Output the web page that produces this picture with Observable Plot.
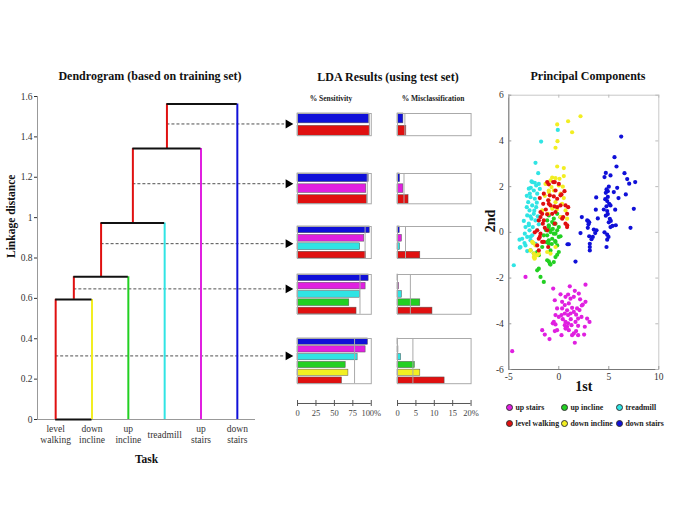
<!DOCTYPE html>
<html><head><meta charset="utf-8">
<script src="https://cdn.jsdelivr.net/npm/d3@7"></script>
<script src="https://cdn.jsdelivr.net/npm/@observablehq/plot@0.6"></script>
<style>
body{margin:0;background:#fff;}
#chart{position:relative;width:685px;height:513px;background:#fff;font-family:"Liberation Serif",serif;overflow:hidden}
.abs{position:absolute}
.title{position:absolute;width:240px;text-align:center;font-weight:bold;font-size:12px;line-height:12px;color:#111;white-space:nowrap}
.sub{position:absolute;width:120px;text-align:center;font-weight:bold;font-size:7.5px;line-height:8px;color:#222;white-space:nowrap}
.leg{position:absolute;display:flex;align-items:center;font-weight:bold;font-size:7.8px;color:#222;white-space:nowrap;line-height:10px}
.leg i{display:inline-block;width:7px;height:7px;border-radius:50%;border:1px solid #333;margin-right:3px;box-sizing:border-box}
</style></head><body><div id="chart"></div><script>
// ---------------- DATA ----------------
const classes = ["down stairs","up stairs","treadmill","up incline","down incline","level walking"];
const classColors = ["#1010d8","#e020e0","#30e4e4","#22d022","#f2ee22","#e01010"];

// Dendrogram
const leaves = ["level walking","down incline","up incline","treadmill","up stairs","down stairs"];
const leafLabels = ["level\nwalking","down\nincline","up\nincline","treadmill","up\nstairs","down\nstairs"];
const mergeHeights = [0.595,0.707,0.973,1.342,1.563];
const cutHeights = [0.315,0.647,0.871,1.168,1.464];
const dendroTicks = [0,0.2,0.4,0.6,0.8,1,1.2,1.4,1.6];

// LDA results
const ldaGroups = [
  ["down stairs","level walking"],
  ["down stairs","up stairs","level walking"],
  ["down stairs","up stairs","treadmill","level walking"],
  ["down stairs","up stairs","treadmill","up incline","level walking"],
  ["down stairs","up stairs","treadmill","up incline","down incline","level walking"]
];
const sensitivity = [
  [96.8,98],
  [96.4,93.2,94],
  [98,90.5,85,93],
  [96.4,92.3,84.6,70.2,80],
  [95.5,92.3,81.5,65.3,69,60.3]
];
const misclassification = [
  [1.6,2.4],
  [0.7,1.6,3.0],
  [0.6,1.2,0.7,6.2],
  [0.2,0.4,1.2,6.2,9.5],
  [0.15,0.25,1.0,4.7,6.2,12.8]
];
const sensTicks = [0,25,50,75,100];
const misTicks = [0,5,10,15,20];

// Principal components (1st, 2nd)
const pcUpStairs = [[-3.33,-1.95],[-4.66,-5.2],[-0.56,-2.46],[1.1,-2.36],[2.67,-2.29],[0.17,-2.71],[1.6,-2.56],[0.93,-2.72],[2.0,-2.68],[0.67,-2.82],[1.17,-2.9],[1.5,-2.82],[-0.4,-2.97],[0.33,-3.04],[0.6,-3.18],[1.0,-3.11],[2.13,-2.93],[2.4,-3.16],[2.67,-3.04],[-0.17,-3.33],[0.33,-3.33],[0.83,-3.41],[1.33,-3.3],[1.83,-3.33],[1.5,-3.48],[1.73,-3.6],[1.17,-3.55],[0.93,-3.62],[0.6,-3.55],[0.27,-3.62],[2.07,-3.4],[2.27,-3.7],[1.93,-3.77],[0.0,-3.7],[-0.33,-3.62],[2.83,-3.77],[3.07,-3.92],[-0.5,-3.92],[-0.33,-4.03],[-0.6,-3.98],[0.6,-4.06],[0.93,-3.98],[1.27,-4.06],[0.67,-3.92],[1.67,-3.92],[1.93,-4.09],[2.6,-4.13],[-0.17,-4.28],[-0.4,-4.32],[0.27,-4.5],[0.67,-4.21],[0.83,-4.13],[1.0,-4.28],[1.33,-4.5],[1.5,-4.42],[1.73,-4.32],[1.93,-4.5],[2.53,-4.47],[-1.66,-4.28],[-1.4,-4.47],[-0.93,-4.67],[1.6,-4.83],[1.2,-3.8],[0.4,-3.8],[2.3,-3.2]];
const pcTreadmill = [[-0.1,4.48],[-1.77,3.97],[-2.33,3.04],[-2.06,2.59],[-2.73,2.23],[-2.4,2.17],[-2.0,2.12],[-2.66,2.2],[-2.26,2.05],[-3.0,1.91],[-2.5,1.83],[-2.16,1.69],[-2.83,1.54],[-2.4,1.47],[-3.06,1.32],[-2.66,1.18],[-2.26,1.1],[-2.93,0.96],[-2.5,0.81],[-3.16,0.74],[-2.73,0.6],[-2.33,0.52],[-3.0,0.38],[-2.6,0.23],[-3.33,0.23],[-2.93,0.09],[-2.16,0.09],[-3.4,-0.06],[-3.16,-0.2],[-2.66,-0.13],[-3.66,-0.28],[-3.93,-0.32],[-2.83,-0.35],[-2.33,-0.5],[-3.33,-0.57],[-3.83,-0.64],[-4.5,-1.44],[-3.9,-0.67],[-3.43,-0.47],[-3.16,-0.82],[-2.83,-0.2],[-3.0,0.31],[-2.9,1.7],[-2.2,1.3],[-3.2,1.1],[-2.45,0.95],[-2.85,0.7],[-2.1,0.7],[-3.5,0.5],[-2.6,-0.45],[-1.9,1.9],[-2.8,1.95],[-3.2,1.6],[-2.0,0.35]];
const pcUpIncline = [[-1.16,0.52],[-0.66,0.45],[-1.0,0.23],[-0.33,0.38],[-0.83,0.09],[-0.16,0.09],[-0.5,-0.06],[-1.16,-0.13],[0.0,-0.2],[-0.66,-0.28],[-0.33,-0.42],[-1.0,-0.5],[-0.16,-0.57],[-0.83,-0.79],[0.0,-0.86],[-0.33,-1.08],[-1.16,-1.22],[-0.5,-1.3],[-1.0,0.74],[-0.16,0.81],[0.17,0.66],[-0.5,0.6],[-1.0,0.31],[-0.5,0.38],[0.0,0.23],[-0.83,0.01],[-0.33,-0.06],[0.17,-0.17],[-1.2,-0.43],[-0.7,-0.51],[-0.36,-0.38],[-0.16,-0.98],[-0.9,-1.37],[-2.83,-0.79],[-2.5,-0.93],[-2.0,-1.59],[-2.16,-1.66],[-1.83,-1.95],[-1.5,-2.17],[-1.0,-1.27],[-0.83,-1.41],[-1.5,-0.13],[-1.66,-0.64],[-1.0,-0.35],[-2.16,-0.86],[-2.0,-1.0],[-1.3,0.1],[-0.6,0.15]];
const pcDownIncline = [[2.17,5.08],[0.93,4.86],[-0.16,4.72],[1.33,4.38],[-0.13,3.99],[-0.33,3.7],[-0.16,2.88],[0.5,2.81],[-0.66,2.4],[-0.33,2.37],[-0.83,2.27],[0.07,2.34],[0.5,2.46],[-1.16,2.13],[-0.73,1.98],[-1.0,1.76],[-0.5,1.83],[0.0,2.05],[0.17,1.69],[-1.0,1.4],[-0.33,1.32],[0.33,1.25],[-0.66,1.03],[0.67,0.96],[-1.16,0.81],[0.17,0.67],[0.83,0.6],[-1.16,-0.86],[-0.33,-0.64],[-1.33,2.12],[-1.0,1.83],[-1.66,0.96],[-1.06,0.81],[-2.66,-0.42],[-2.33,-0.57],[-2.83,-0.79],[-2.16,-1.0],[-2.5,-1.08],[-2.56,-0.47],[-2.5,-0.93],[-2.0,-0.93],[-2.43,-1.15],[-0.83,-0.93],[-2.4,-1.12],[0.4,2.0],[-0.2,1.0],[0.5,1.5],[-1.4,1.6]];
const pcLevelWalking = [[-1.0,2.1],[-0.56,2.2],[-0.33,1.83],[-1.5,1.69],[-0.9,1.62],[0.17,1.62],[0.57,1.8],[-1.56,1.25],[-1.0,1.25],[-0.43,1.14],[0.17,1.18],[-1.83,0.89],[-1.16,0.79],[-0.33,0.89],[0.94,1.1],[0.44,0.67],[-1.06,1.4],[-1.66,0.81],[-2.0,0.52],[-1.6,0.38],[-2.16,0.09],[-1.83,-0.06],[-2.4,0.0],[-2.0,-0.28],[-1.66,-0.42],[-2.16,-0.57],[-1.06,-0.64],[-1.16,2.2],[-0.4,2.2],[0.0,2.12],[-0.5,1.57],[-0.16,1.47],[0.27,1.66],[-0.83,1.18],[-0.16,1.1],[0.67,1.18],[-0.66,0.81],[0.83,0.81],[0.67,0.38],[0.83,0.23],[-1.16,0.09],[-0.4,0.38],[-1.83,0.67],[-1.5,0.52],[0.34,0.6],[0.84,0.31],[-1.9,-0.2],[-1.5,-0.42],[-2.0,-0.79],[-1.3,1.0],[-1.9,1.5],[-1.4,0.2]];
const pcDownStairs = [[6.24,4.19],[5.57,3.29],[5.77,2.88],[4.7,2.6],[4.57,2.42],[5.17,2.49],[6.57,2.59],[6.84,2.33],[7.04,2.13],[7.64,2.2],[5.84,1.95],[4.77,1.88],[4.9,1.8],[4.7,1.73],[5.5,1.76],[6.7,1.66],[5.97,1.5],[3.74,1.53],[4.64,1.45],[4.84,1.37],[5.04,1.25],[4.77,1.14],[5.17,1.18],[5.64,0.99],[7.5,1.03],[3.7,0.99],[4.84,0.93],[4.9,0.8],[4.7,0.73],[2.3,0.67],[3.9,0.61],[5.1,0.59],[5.2,0.5],[5.0,0.44],[2.84,0.52],[3.04,0.44],[5.7,0.31],[5.17,0.23],[5.37,0.28],[2.9,0.2],[2.97,0.35],[7.17,0.2],[3.5,0.12],[3.77,0.09],[3.64,-0.03],[2.17,-0.03],[4.57,0.0],[4.84,-0.1],[3.4,-0.2],[3.27,-0.3],[4.97,-0.2],[4.84,-0.32],[3.04,-0.17],[3.1,-0.5],[3.1,-0.64],[3.1,-0.79],[4.77,-0.64],[0.87,-0.52],[1.0,-0.52],[1.67,-1.28],[2.94,0.49],[4.9,1.55],[5.0,2.0],[4.5,1.0]];
const pcTicksX = [-5,0,5,10];
const pcTicksY = [-6,-4,-2,0,2,4,6];
const legendOrder = ["up stairs","up incline","treadmill","level walking","down incline","down stairs"];

// ---------------- HELPERS ----------------
const chart = document.getElementById("chart");
const FONT = "Liberation Serif";
const colorScale = {domain: classes, range: classColors};
function place(node, left, top) {
  const d = document.createElement("div");
  d.className = "abs"; d.style.left = left + "px"; d.style.top = top + "px";
  d.appendChild(node); chart.appendChild(d); return d;
}
function addText(cls, text, cx, cy, w) {
  const d = document.createElement("div");
  d.className = cls; d.textContent = text;
  d.style.left = (cx - w / 2) + "px"; d.style.top = cy + "px";
  chart.appendChild(d);
}

// ---------------- TITLES ----------------
addText("title", "Dendrogram (based on training set)", 150, 70, 240);
addText("title", "LDA Results (using test set)", 388, 71, 240);
addText("title", "Principal Components", 588, 70, 240);
addText("sub", "% Sensitivity", 331, 95, 120);
addText("sub", "% Misclassification", 433, 95, 120);

// ---------------- DENDROGRAM ----------------
const vsegs = [], hsegs = [], spans = [];
let cx = 1, base = 0;
mergeHeights.forEach((h, i) => {
  const lx = i + 2;
  vsegs.push({x: cx, y1: base, y2: h, cls: leaves[0]});
  spans.push({x: cx, y1: base, y2: h});
  vsegs.push({x: lx, y1: 0, y2: h, cls: leaves[i + 1]});
  hsegs.push({x1: cx, x2: lx, y: h});
  cx = (cx + lx) / 2; base = h;
});
const cuts = cutHeights.map(c => ({y: c, x1: spans.find(s => c >= s.y1 && c <= s.y2).x}));
const dashEnd = 7.30, arrowX = 7.40;

const dendro = Plot.plot({
  width: 300, height: 385,
  marginLeft: 37, marginRight: 45, marginTop: 16, marginBottom: 46,
  style: {fontFamily: FONT, fontSize: "9.5px", color: "#333", background: "transparent", overflow: "visible"},
  x: {domain: [0.5, 6.5], axis: null},
  y: {domain: [0, 1.6], ticks: dendroTicks, tickSize: 3, tickPadding: 2, tickFormat: d => String(+d.toFixed(2)), label: null},
  color: colorScale,
  marks: [
    Plot.ruleX([0.5], {y1: 0, y2: 1.6, stroke: "#999"}),
    Plot.ruleY([0], {x1: 0.5, x2: 6.5, stroke: "#999"}),
    Plot.ruleY(cuts, {y: "y", x1: "x1", x2: dashEnd, stroke: "#222", strokeWidth: 0.8, strokeDasharray: "3,2"}),
    Plot.dot(cuts, {x: arrowX, y: "y", symbol: "triangle", rotate: 90, r: 3.3, fill: "#000", stroke: "none"}),
    Plot.ruleY([0], {x1: 1, x2: 2, stroke: "#111", strokeWidth: 2}),
    Plot.ruleX(vsegs, {x: "x", y1: "y1", y2: "y2", stroke: "cls", strokeWidth: 2}),
    Plot.ruleY(hsegs, {y: "y", x1: "x1", x2: "x2", stroke: "#111", strokeWidth: 2}),
    Plot.text(leafLabels, {x: (d, i) => i + 1, y: 0, dy: 14.5, text: d => d, lineAnchor: "middle", lineHeight: 1.2, fontSize: 9.5, fill: "#333"}),
    Plot.text(["Task"], {frameAnchor: "bottom", dy: 40, text: d => d, fontWeight: "bold", fontSize: 11.5, fill: "#111", lineAnchor: "middle"}),
    Plot.text(["Linkage distance"], {frameAnchor: "left", dx: -26, rotate: -90, text: d => d, fontWeight: "bold", fontSize: 11.5, fill: "#111"})
  ]
});
place(dendro, 0, 80);

// ---------------- LDA BARS ----------------
const ldaTop = [113.3, 172.5, 225.5, 273.5, 338.3];
const ldaBottom = [135.5, 202.8, 257.5, 313.3, 383.5];
const sensLeft = 296.5, sensRight = 370.3, misLeft = 396.7, misRight = 470.3;
function ldaPlot(group, values, maxV, w, h) {
  const rows = group.map((c, i) => ({c, v: values[i]}));
  return Plot.plot({
    width: w + 4, height: h + 4, margin: 2,
    style: {background: "transparent", overflow: "visible"},
    x: {domain: [0, maxV], axis: null},
    y: {domain: group, axis: null, paddingInner: 0.2, paddingOuter: 0, round: false},
    color: colorScale,
    marks: [
      Plot.barX(rows, {x: "v", y: "c", fill: "c", stroke: "#555", strokeWidth: 0.5}),
      Plot.ruleX([d3.mean(values)], {stroke: "#aaa", strokeWidth: 1}),
      Plot.frame({stroke: "#aaa"})
    ]
  });
}
ldaGroups.forEach((g, i) => {
  const h = ldaBottom[i] - ldaTop[i];
  place(ldaPlot(g, sensitivity[i], 100, sensRight - sensLeft, h), sensLeft - 2, ldaTop[i] - 2);
  place(ldaPlot(g, misclassification[i], 20, misRight - misLeft, h), misLeft - 2, ldaTop[i] - 2);
});
function ldaAxis(ticks, maxV, w) {
  return Plot.plot({
    width: w + 26, height: 26, marginLeft: 10, marginRight: 16, marginTop: 3, marginBottom: 17,
    style: {fontFamily: FONT, fontSize: "8.5px", color: "#444", background: "transparent", overflow: "visible"},
    x: {domain: [0, maxV], ticks, tickSize: 0, tickPadding: 3, tickFormat: d => d === maxV ? d + "%" : String(d), label: null},
    y: {domain: [-1, 1], axis: null},
    marks: [
      Plot.ruleY([0], {stroke: "#555"}),
      Plot.ruleX(ticks, {x: d => d, y1: -1, y2: 1, stroke: "#555"})
    ]
  });
}
place(ldaAxis(sensTicks, 100, sensRight - sensLeft), sensLeft - 10, 400.3 - 3);
place(ldaAxis(misTicks, 20, misRight - misLeft), misLeft - 10, 400.3 - 3);

// ---------------- PCA SCATTER ----------------
const pcSets = [["up stairs", pcUpStairs], ["treadmill", pcTreadmill], ["up incline", pcUpIncline],
                ["down incline", pcDownIncline], ["level walking", pcLevelWalking], ["down stairs", pcDownStairs]];
const pts = pcSets.flatMap(([c, arr]) => arr.map(([x, y]) => ({c, x, y})));
const scatter = Plot.plot({
  width: 205, height: 315,
  marginLeft: 28.3, marginRight: 26.7, marginTop: 14.7, marginBottom: 26,
  style: {fontFamily: FONT, fontSize: "9.5px", color: "#333", background: "transparent", overflow: "visible"},
  x: {domain: [-5, 10], ticks: pcTicksX, tickSize: 0, tickPadding: 4, tickFormat: d => String(d), label: null},
  y: {domain: [-6, 6], ticks: pcTicksY, tickSize: 0, tickPadding: 5, tickFormat: d => String(d), label: null},
  color: colorScale,
  marks: [
    Plot.frame({stroke: "#c8c8c8"}),
    Plot.ruleX([-5], {stroke: "#777"}),
    Plot.ruleY([-6], {stroke: "#777"}),
    Plot.ruleY(pcTicksY, {y: d => d, x1: -5, x2: -4.7, stroke: "#999"}),
    Plot.ruleY(pcTicksY, {y: d => d, x1: 9.7, x2: 10, stroke: "#bbb"}),
    Plot.ruleX(pcTicksX, {x: d => d, y1: -6, y2: -5.87, stroke: "#999"}),
    Plot.ruleX(pcTicksX, {x: d => d, y1: 5.87, y2: 6, stroke: "#bbb"}),
    Plot.dot(pts, {x: "x", y: "y", fill: "c", r: 2.1, stroke: "none"}),
    Plot.text(["1st"], {frameAnchor: "bottom", dy: 17, text: d => d, fontWeight: "bold", fontSize: 14, fill: "#111", lineAnchor: "middle"}),
    Plot.text(["2nd"], {frameAnchor: "left", dx: -18, rotate: -90, text: d => d, fontWeight: "bold", fontSize: 14, fill: "#111"})
  ]
});
place(scatter, 480, 80);

// ---------------- LEGEND ----------------
const legCols = [509, 564, 619], legRows = [407.7, 423.7];
legendOrder.forEach((c, i) => {
  const d = document.createElement("div");
  d.className = "leg";
  const dot = document.createElement("i");
  dot.style.background = classColors[classes.indexOf(c)];
  d.appendChild(dot);
  d.appendChild(document.createTextNode(c));
  d.style.left = (legCols[i % 3] - 3.5) + "px";
  d.style.top = (legRows[Math.floor(i / 3)] - 5) + "px";
  chart.appendChild(d);
});
</script></body></html>
